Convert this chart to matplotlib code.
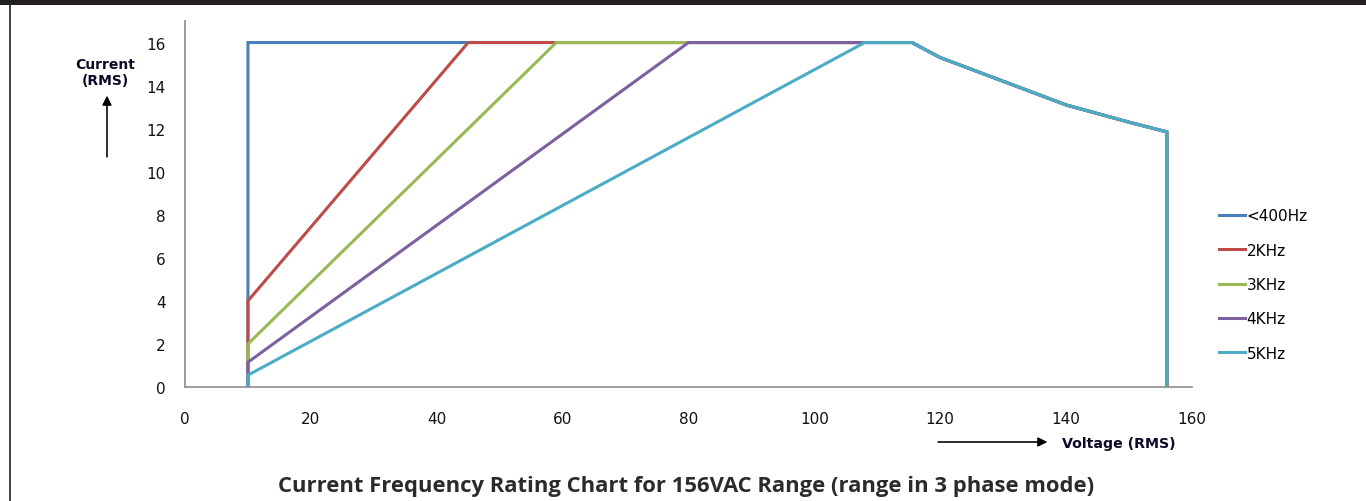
import matplotlib.pyplot as plt
from matplotlib.lines import Line2D

# voltage (RMS) / current (RMS) breakpoints
v_400 = [10, 10, 115.5, 120, 130, 140, 150, 156, 156]
i_400 = [0, 16, 16, 15.3, 14.2, 13.1, 12.3, 11.85, 0]

v_2k = [10, 10, 45, 115.5, 120, 130, 140, 150, 156, 156]
i_2k = [0, 4.0, 16, 16, 15.3, 14.2, 13.1, 12.3, 11.85, 0]

v_3k = [10, 10, 59, 115.5, 120, 130, 140, 150, 156, 156]
i_3k = [0, 2.0, 16, 16, 15.3, 14.2, 13.1, 12.3, 11.85, 0]

v_4k = [10, 10, 80, 115.5, 120, 130, 140, 150, 156, 156]
i_4k = [0, 1.15, 16, 16, 15.3, 14.2, 13.1, 12.3, 11.85, 0]

v_5k = [10, 10, 108, 115.5, 120, 130, 140, 150, 156, 156]
i_5k = [0, 0.55, 16, 16, 15.3, 14.2, 13.1, 12.3, 11.85, 0]

labels = ["<400Hz", "2KHz", "3KHz", "4KHz", "5KHz"]
series_colors = ["#4A7EBB", "#BE4B48", "#98B954", "#7D60A0", "#4BACC6"]

x_ticks = [0, 20, 40, 60, 80, 100, 120, 140, 160]
y_ticks = [0, 2, 4, 6, 8, 10, 12, 14, 16]

plt.rcParams['font.family'] = ['DejaVu Sans']

fig = plt.figure(figsize=(13.66, 5.02), dpi=100)
ax = fig.add_axes([185 / 1366, 114 / 502, 1007 / 1366, 366 / 502])

series = [(v_400, i_400), (v_2k, i_2k), (v_3k, i_3k), (v_4k, i_4k), (v_5k, i_5k)]
for (xs, ys), lab, col in zip(series, labels, series_colors):
    ax.plot(xs, ys, color=col, lw=2.2, label=lab, solid_joinstyle='miter')

ax.set_xlim(0, 160)
ax.set_ylim(0, 17)
ax.set_xticks(x_ticks)
ax.set_yticks(y_ticks)
ax.tick_params(length=0, labelsize=11, colors="#111111")
ax.tick_params(axis='x', pad=17)
ax.tick_params(axis='y', pad=14)
for s in ["top", "right"]:
    ax.spines[s].set_visible(False)
for s in ["left", "bottom"]:
    ax.spines[s].set_color("#8c8c8c")
    ax.spines[s].set_linewidth(1.2)

handles = [Line2D([], [], color=c, lw=2.2) for c in series_colors]
leg = fig.legend(handles, labels, loc="upper left", bbox_to_anchor=(1213 / 1366, 1 - 203 / 502),
                 frameon=False, fontsize=11, handlelength=1.7, handletextpad=0.1,
                 labelspacing=1.27, borderaxespad=0)

# axis captions with arrows
fig.text(105 / 1366, 1 - 73 / 502, "Current\n(RMS)", ha="center", va="center",
         fontsize=10, fontweight="bold", color="#0a0a28", linespacing=1.15)
fig.add_artist(plt.annotate("", xy=(107 / 1366, 1 - 97 / 502), xytext=(107 / 1366, 1 - 158 / 502),
                            xycoords="figure fraction",
                            arrowprops=dict(arrowstyle="-|>", color="black", lw=0.8,
                                            mutation_scale=14, shrinkA=0, shrinkB=0)))
fig.text(1062 / 1366, 1 - 444 / 502, "Voltage (RMS)", ha="left", va="center",
         fontsize=10.2, fontweight="bold", color="#0a0a28")
fig.add_artist(plt.annotate("", xy=(1047 / 1366, 1 - 443 / 502), xytext=(938 / 1366, 1 - 443 / 502),
                            xycoords="figure fraction",
                            arrowprops=dict(arrowstyle="-|>", color="black", lw=0.8,
                                            mutation_scale=14, shrinkA=0, shrinkB=0)))

fig.text(686 / 1366, 1 - 487 / 502,
         "Current Frequency Rating Chart for 156VAC Range (range in 3 phase mode)",
         ha="center", va="center", fontsize=15.8, fontweight="bold",
         family=["Open Sans", "DejaVu Sans"], color="#2b2b2b")

# page decorations: dark strip on top and left border line
fig.add_artist(plt.Rectangle((0, 1 - 6 / 502), 1, 6 / 502, transform=fig.transFigure,
                             color="#231f20", lw=0))
fig.add_artist(Line2D([10 / 1366, 10 / 1366], [0, 1 - 6 / 502], transform=fig.transFigure,
                      color="#222222", lw=1.2))

fig.savefig("out.png", dpi=100)
